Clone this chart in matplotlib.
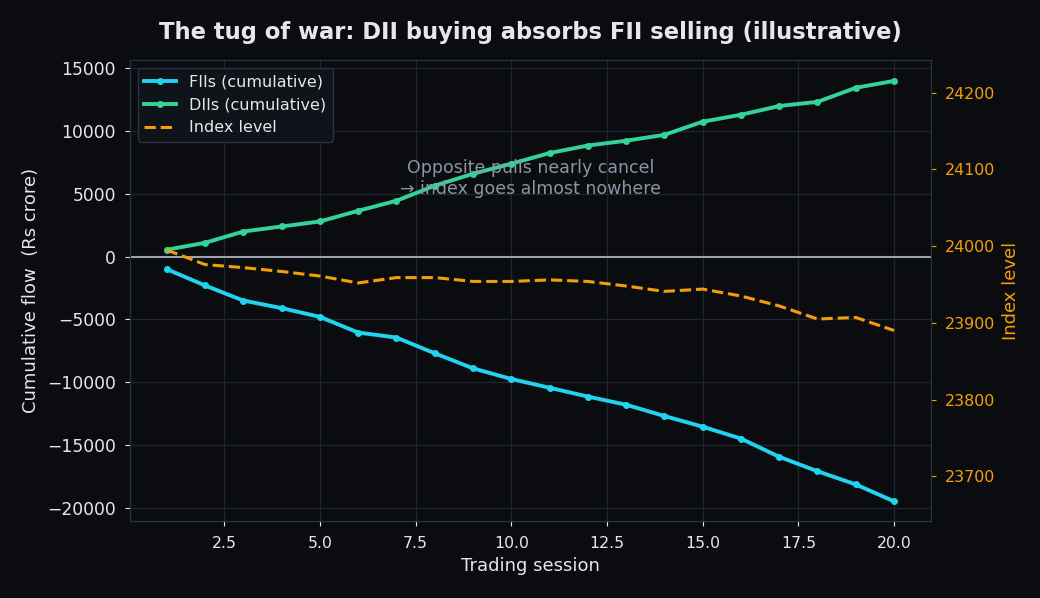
import matplotlib
matplotlib.use("Agg")
import matplotlib.pyplot as plt
import numpy as np

sessions = list(range(1, 21))
fii_cum = [-1000, -2300, -3500, -4100, -4800, -6050, -6450, -7700, -8900, -9750,
           -10450, -11150, -11800, -12700, -13550, -14500, -15950, -17100, -18150, -19500]
dii_cum = [550, 1100, 2000, 2400, 2800, 3650, 4450, 5650, 6600, 7400,
           8250, 8850, 9230, 9700, 10750, 11300, 12000, 12330, 13450, 14000]
index_level = [23995, 23976, 23972, 23967, 23961, 23952, 23959, 23959, 23954, 23954,
               23956, 23954, 23948, 23941, 23944, 23935, 23922, 23905, 23907, 23890]

bg = "#0b0c10"
txt = "#e5e7eb"
grid_c = "#1e2632"
spine_c = "#2a3340"
fii_c = "#22d3ee"
dii_c = "#34d399"
idx_c = "#f59e0b"

fig, ax = plt.subplots(figsize=(10.4, 5.98), dpi=100)
fig.patch.set_facecolor(bg)
ax.set_facecolor(bg)

ax.plot(sessions, fii_cum, color=fii_c, lw=2.8, marker="o", ms=4, label="FIIs (cumulative)")
ax.plot(sessions, dii_cum, color=dii_c, lw=2.8, marker="o", ms=4, label="DIIs (cumulative)")
ax.axhline(0, color="#9ca3af", lw=1.5)
ax.set_xlim(0.04, 20.96)
ax.set_ylim(-21100, 15680)
ax.grid(True, color=grid_c, lw=0.9)
ax.set_xlabel("Trading session", color=txt, fontsize=13)
ax.set_ylabel("Cumulative flow  (Rs crore)", color=txt, fontsize=13, labelpad=5)
ax.tick_params(colors=txt, pad=7)
ax.tick_params(axis="x", labelsize=11.3)
ax.tick_params(axis="y", labelsize=12.3, pad=6.5)
for s in ax.spines.values():
    s.set_color(spine_c)

ax2 = ax.twinx()
ax2.plot(sessions, index_level, color=idx_c, lw=2.2, ls="--", label="Index level")
ax2.set_ylim(23641, 24243)
ax2.set_ylabel("Index level", color=idx_c, fontsize=13, labelpad=5)
ax2.tick_params(axis="y", colors=idx_c, labelsize=11.4, pad=6.5)
for s in ax2.spines.values():
    s.set_color(spine_c)

h1, l1 = ax.get_legend_handles_labels()
h2, l2 = ax2.get_legend_handles_labels()
leg = ax.legend(h1 + h2, l1 + l2, loc="upper left", fontsize=11.5,
                facecolor="#0f141b", edgecolor=spine_c, framealpha=1)
for t in leg.get_texts():
    t.set_color(txt)
leg.set_zorder(5)

ax.text(10.5, 6200, "Opposite pulls nearly cancel\n\u2192 index goes almost nowhere",
        ha="center", va="center", color="#8b95a5", fontsize=12.5)

ax.set_title("The tug of war: DII buying absorbs FII selling (illustrative)",
             color=txt, fontsize=16.3, fontweight="bold", pad=15)

fig.subplots_adjust(left=0.125, right=0.895, top=0.9, bottom=0.128)
fig.savefig("out.png", dpi=100, facecolor=bg)
